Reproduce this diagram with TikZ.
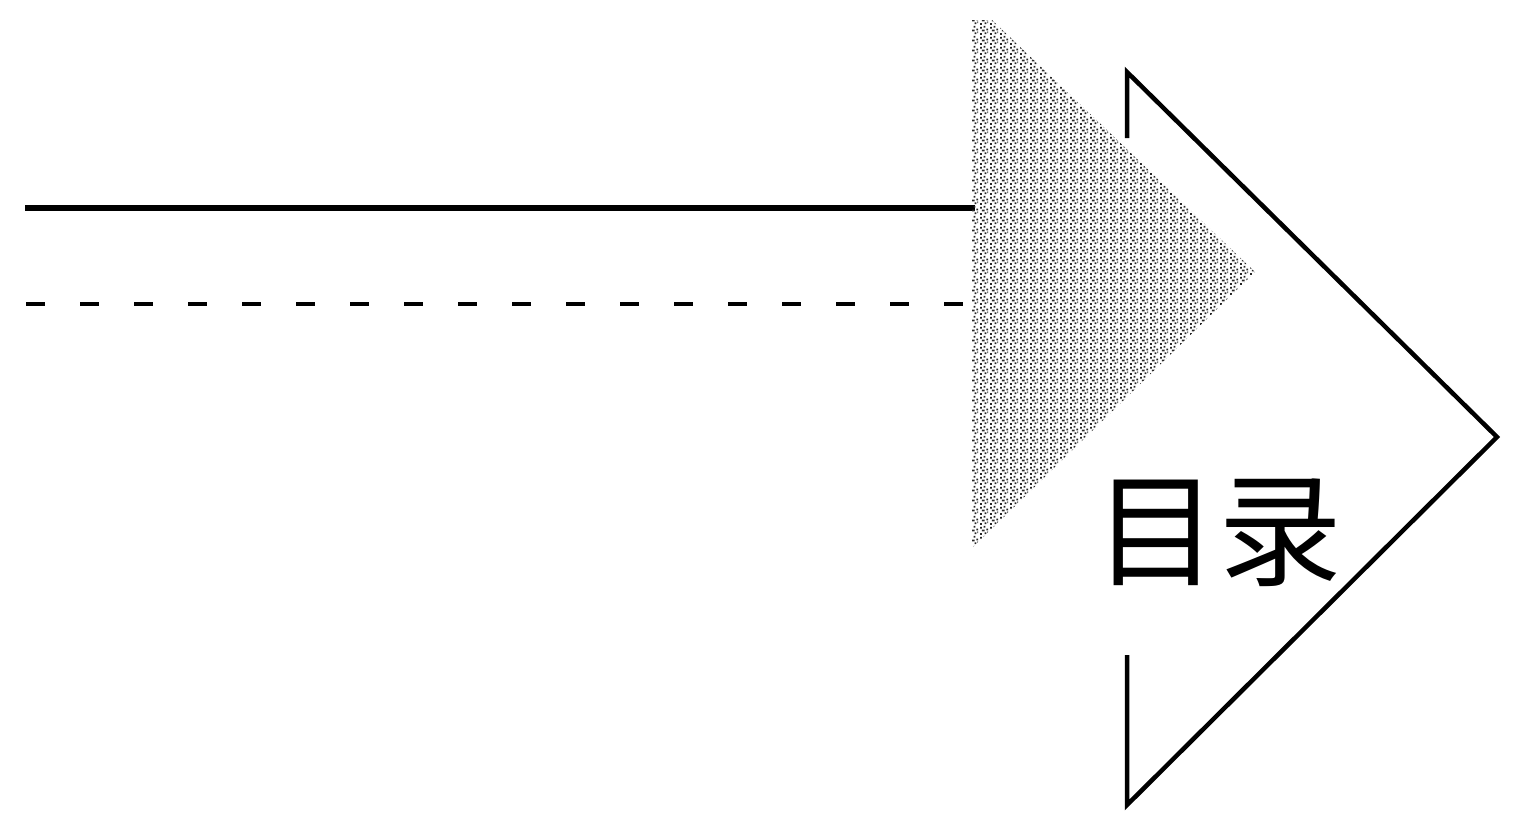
\documentclass[tikz,border=0pt]{standalone}
\usepackage{fontspec}
\newfontfamily\cjk{Noto Sans CJK SC}
\usetikzlibrary{patterns}
\pgfdeclarepatternformonly{stipdots}{\pgfpointorigin}{\pgfpoint{10pt}{10pt}}{\pgfpoint{10pt}{10pt}}{%
  \pgfpathrectangle{\pgfpoint{0pt}{0pt}}{\pgfpoint{2pt}{2pt}}%
  \pgfpathrectangle{\pgfpoint{5pt}{1pt}}{\pgfpoint{2pt}{2pt}}%
  \pgfpathrectangle{\pgfpoint{2pt}{4pt}}{\pgfpoint{3pt}{2pt}}%
  \pgfpathrectangle{\pgfpoint{7pt}{5pt}}{\pgfpoint{2pt}{2pt}}%
  \pgfpathrectangle{\pgfpoint{0pt}{7pt}}{\pgfpoint{2pt}{2pt}}%
  \pgfpathrectangle{\pgfpoint{4pt}{8pt}}{\pgfpoint{2pt}{2pt}}%
  \pgfpathrectangle{\pgfpoint{8pt}{2pt}}{\pgfpoint{1pt}{2pt}}%
  \pgfusepath{fill}}
\begin{document}
\begin{tikzpicture}[x=1pt,y=-1pt,
  solidline/.style={line width=6pt},
  dashline/.style={line width=4pt,dash pattern=on 19pt off 35pt},
  outline/.style={line width=4.5pt,line join=miter},
  stipple/.style={pattern=stipdots,pattern color=black!85},
  caption/.style={font=\cjk\fontsize{124}{128}\selectfont,inner sep=0pt}]
\useasboundingbox (0,0) rectangle (1518,825);
% lines
\coordinate (s1) at (25,208);
\coordinate (s2) at (975,208);
\coordinate (d1) at (26,304);
\coordinate (d2) at (975,304);
\draw[solidline] (s1) -- (s2);
\draw[dashline] (d1) -- (d2);
% stippled triangle
\coordinate (t1) at (972,20);
\coordinate (t2) at (992,20);
\coordinate (t3) at (1255,272);
\coordinate (t4) at (972,548);
\fill[stipple] (t1) -- (t2) -- (t3) -- (t4) -- cycle;
% arrow outline
\coordinate (a1) at (1127,138);
\coordinate (a2) at (1127,72);
\coordinate (a3) at (1497,437);
\coordinate (a4) at (1127,805);
\coordinate (a5) at (1127,655);
\draw[outline] (a1) -- (a2) -- (a3) -- (a4) -- (a5);
% label
\node[caption] (lbl) at (1218,533) {目录};
\end{tikzpicture}
\end{document}
